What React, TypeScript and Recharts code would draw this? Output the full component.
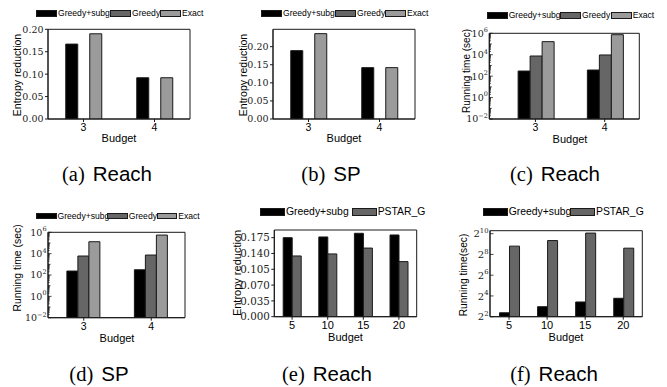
import React from 'react';
import { BarChart, Bar, XAxis, YAxis, CartesianGrid } from 'recharts';

// ---------- data ----------
const smallBudgets = ['3', '4'];
const largeBudgets = ['5', '10', '15', '20'];

// (a) Reach: entropy reduction
const aGreedySubg = [0.167, 0.092];
const aGreedy = [0, 0];
const aExact = [0.19, 0.092];
// (b) SP: entropy reduction
const bGreedySubg = [0.189, 0.142];
const bGreedy = [0, 0];
const bExact = [0.236, 0.142];
// (c) Reach: running time (sec)
const cGreedySubg = [300, 375];
const cGreedy = [7600, 9500];
const cExact = [166000, 740000];
// (d) SP: running time (sec)
const dGreedySubg = [235, 310];
const dGreedy = [6000, 7400];
const dExact = [131000, 550000];
// (e) Reach: entropy reduction vs PSTAR_G
const eGreedySubg = [0.175, 0.1766, 0.1847, 0.181];
const ePstarG = [0.1345, 0.139, 0.152, 0.122];
// (f) Reach: running time vs PSTAR_G
const fGreedySubg = [5.2, 7.8, 10.7, 13.7];
const fPstarG = [446, 648, 1067, 389];

// ticks
const entropyTicksSmall = [0, 0.05, 0.1, 0.15, 0.2];
const entropyTicksLarge = [0, 0.035, 0.07, 0.105, 0.14, 0.175];
const log10LabelValues = [0.01, 1, 100, 10000, 1000000];
const log10LabelExponents = ['\u22122', '0', '2', '4', '6'];
const log2LabelValues = [4, 16, 64, 256, 1024];
const log2LabelExponents = ['2', '4', '6', '8', '10'];

const captionLetters = ['(a)', '(b)', '(c)', '(d)', '(e)', '(f)'];
const captionNames = ['Reach', 'SP', 'Reach', 'SP', 'Reach', 'Reach'];

// ---------- styling ----------
const STROKE = '#1a1a1a';
const SERIF = '"DejaVu Serif", serif';
const SANS = '"Liberation Sans", Arial, sans-serif';
const CAP_SERIF = '"Liberation Serif", "Times New Roman", serif';
const C_BLACK = '#000000';
const C_DARK = '#666666';
const C_LIGHT = '#9b9b9b';

// minor/major tick positions for the base-10 log axis
const log10AllTicks: number[] = [];
for (let k = -2; k <= 6; k++) {
  log10AllTicks.push(Math.pow(10, k));
  if (k < 6) for (let m = 2; m <= 9; m++) log10AllTicks.push(m * Math.pow(10, k));
}

const threeSeries = [
  { key: 'gs', name: 'Greedy+subg', fill: C_BLACK },
  { key: 'g', name: 'Greedy', fill: C_DARK },
  { key: 'ex', name: 'Exact', fill: C_LIGHT },
];
const twoSeries = [
  { key: 'gs', name: 'Greedy+subg', fill: C_BLACK },
  { key: 'ps', name: 'PSTAR_G', fill: C_DARK },
];

const rows3 = (gs: number[], g: number[], ex: number[]) =>
  smallBudgets.map((b, i) => ({ budget: b, gs: gs[i], g: g[i], ex: ex[i] }));
const rows2 = (gs: number[], ps: number[]) =>
  largeBudgets.map((b, i) => ({ budget: b, gs: gs[i], ps: ps[i] }));

const LOG_TICK_MARGIN = 1.5;

function makeLogTick(labelValues: number[], labelExps: string[], base: string, fontSize: number, minor: boolean) {
  return (props: any) => {
    const { x, y, payload } = props;
    const v = payload.value;
    const axisX = x + LOG_TICK_MARGIN; // tickSize is 0
    let idx = -1;
    labelValues.forEach((lv, i) => {
      if (Math.abs(lv - v) / lv < 1e-6) idx = i;
    });
    const isDecade = Math.abs(Math.log10(v) - Math.round(Math.log10(v))) < 1e-6;
    const len = idx >= 0 ? 3.5 : isDecade ? 2.5 : 1.6;
    return (
      <g>
        {(minor || idx >= 0) && (
          <line x1={axisX} x2={axisX + len} y1={y} y2={y} stroke={STROKE} strokeWidth={0.8} />
        )}
        {idx >= 0 && (
          <text x={x} y={y} textAnchor="end" dy="0.36em" fontFamily={SERIF} fontSize={fontSize} fill="#222">
            <tspan>{base}</tspan>
            <tspan dy={-4.5} fontSize={fontSize * 0.68}>{labelExps[idx]}</tspan>
          </text>
        )}
      </g>
    );
  };
}

type LegendItem = { name: string; fill: string; left: number };

function LegendHtml({ items, top, w, h, fontSize }: { items: LegendItem[]; top: number; w: number; h: number; fontSize: number }) {
  return (
    <>
      {items.map((it) => (
        <div
          key={it.name + it.left}
          style={{ position: 'absolute', left: it.left, top, height: h, display: 'flex', alignItems: 'center', whiteSpace: 'nowrap' }}
        >
          <div style={{ width: w, height: h, background: it.fill, border: `1px solid ${STROKE}`, boxSizing: 'border-box' }} />
          <span style={{ fontFamily: SANS, fontSize, lineHeight: `${h}px`, marginLeft: 1, color: '#000' }}>{it.name}</span>
        </div>
      ))}
    </>
  );
}

type PanelProps = {
  left: number;
  top: number;
  width: number;
  height: number;
  plot: [number, number, number, number];
  budgetBaseline: number;
  budgetX: number;
  data: any[];
  series: { key: string; name: string; fill: string }[];
  yDomain: [number, number];
  log?: boolean;
  yTicks: number[];
  yTick?: any;
  decimals?: number;
  yTickFont?: number;
  yLabel: string;
  yLabelPos: [number, number];
  yLabelSize: number;
  xTickFont: number;
  xPadLeft?: number;
};

function Panel(p: PanelProps) {
  const [pl, pt, pr, pb] = p.plot;
  const xAxisH = p.budgetBaseline - pb;
  const margin = {
    top: pt - p.top,
    right: p.left + p.width - pr,
    left: 0,
    bottom: p.top + p.height - pb - xAxisH,
  };
  const yAxisW = pl - p.left;
  const ylx = p.yLabelPos[0] - p.left;
  const yly = p.yLabelPos[1] - p.top;
  const bx = p.budgetX - p.left;
  const by = p.budgetBaseline - p.top;
  const yLabelEl = () => (
    <text
      x={ylx}
      y={yly}
      transform={`rotate(-90 ${ylx} ${yly})`}
      textAnchor="middle"
      dy="0.36em"
      fontFamily={SANS}
      fontSize={p.yLabelSize}
      fill="#000"
    >
      {p.yLabel}
    </text>
  );
  return (
    <div style={{ position: 'absolute', left: p.left, top: p.top, width: p.width, height: p.height }}>
      <BarChart width={p.width} height={p.height} data={p.data} margin={margin} barGap={0} barCategoryGap="25%">
        <CartesianGrid
          stroke={STROKE}
          strokeWidth={1}
          fill="none"
          horizontalCoordinatesGenerator={(g: any) => (g && g.offset ? [g.offset.top, g.offset.top + g.offset.height] : [])}
          verticalCoordinatesGenerator={(g: any) => (g && g.offset ? [g.offset.left, g.offset.left + g.offset.width] : [])}
        />
        <XAxis
          dataKey="budget"
          type="category"
          interval={0}
          height={xAxisH}
          tickSize={3}
          tickMargin={1.5}
          tickLine={{ stroke: STROKE }}
          axisLine={{ stroke: STROKE }}
          tick={{ fontFamily: SANS, fontSize: p.xTickFont, fill: '#000' }}
          padding={{ left: p.xPadLeft || 0, right: 0 }}
          label={() => (
            <text x={bx} y={by} textAnchor="middle" fontFamily={SANS} fontSize={11} fill="#000">
              Budget
            </text>
          )}
        />
        {p.log ? (
          <YAxis
            type="number"
            scale="log"
            domain={p.yDomain}
            allowDataOverflow
            ticks={p.yTicks}
            interval={0}
            width={yAxisW}
            tickSize={0}
            tickMargin={LOG_TICK_MARGIN}
            tickLine={false}
            axisLine={{ stroke: STROKE }}
            tick={p.yTick}
            label={yLabelEl}
          />
        ) : (
          <YAxis
            type="number"
            domain={p.yDomain}
            allowDataOverflow
            ticks={p.yTicks}
            interval={0}
            width={yAxisW}
            tickSize={3}
            tickMargin={1.5}
            tickLine={{ stroke: STROKE }}
            axisLine={{ stroke: STROKE }}
            tick={{ fontFamily: SERIF, fontSize: p.yTickFont || 9.5, fill: '#222' }}
            tickFormatter={(v: number) => v.toFixed(p.decimals || 2)}
            label={yLabelEl}
          />
        )}
        {p.series.map((s) => (
          <Bar key={s.key} dataKey={s.key} name={s.name} fill={s.fill} stroke={STROKE} strokeWidth={1} isAnimationActive={false} />
        ))}
      </BarChart>
    </div>
  );
}

function Caption({ idx, cx, baseline }: { idx: number; cx: number; baseline: number }) {
  return (
    <div
      style={{
        position: 'absolute',
        left: cx - 100,
        width: 200,
        top: baseline - 18.9,
        height: 24,
        lineHeight: '24px',
        textAlign: 'center',
        whiteSpace: 'nowrap',
        color: '#000',
      }}
    >
      <span style={{ fontFamily: CAP_SERIF, fontSize: 20.5 }}>{captionLetters[idx]}</span>
      <span style={{ fontFamily: SANS, fontSize: 20.5, marginLeft: 8 }}>{captionNames[idx]}</span>
    </div>
  );
}

const leg3 = (lefts: number[]) => threeSeries.map((s, i) => ({ name: s.name, fill: s.fill, left: lefts[i] }));
const leg2 = (lefts: number[]) => twoSeries.map((s, i) => ({ name: s.name, fill: s.fill, left: lefts[i] }));

const log10Tick = makeLogTick(log10LabelValues, log10LabelExponents, '10', 9.5, true);
const log2Tick = makeLogTick(log2LabelValues, log2LabelExponents, '2', 10, false);

export default function App() {
  return (
    <div
      style={{
        position: 'absolute',
        left: 0,
        top: 0,
        width: 667,
        height: 387,
        background: '#ffffff',
        overflow: 'hidden',
      }}
    >
      {/* (a) */}
      <LegendHtml items={leg3([36, 110, 160])} top={10} w={21} h={7} fontSize={8.6} />
      <Panel
        left={0}
        top={0}
        width={222}
        height={150}
        plot={[48, 29.3, 190, 119]}
        budgetBaseline={141.5}
        budgetX={119}
        data={rows3(aGreedySubg, aGreedy, aExact)}
        series={threeSeries}
        yDomain={[0, 0.2]}
        yTicks={entropyTicksSmall}
        decimals={2}
        yTickFont={9.5}
        yLabel="Entropy reduction"
        yLabelPos={[17.3, 75]}
        yLabelSize={10.5}
        xTickFont={10.5}
      />
      {/* (b) */}
      <LegendHtml items={leg3([261, 335, 385])} top={10} w={21} h={7} fontSize={8.6} />
      <Panel
        left={225}
        top={0}
        width={222}
        height={150}
        plot={[273, 29.3, 415, 119]}
        budgetBaseline={141.5}
        budgetX={344}
        data={rows3(bGreedySubg, bGreedy, bExact)}
        series={threeSeries}
        yDomain={[0, 0.248]}
        yTicks={entropyTicksSmall}
        decimals={2}
        yTickFont={9.5}
        yLabel="Entropy reduction"
        yLabelPos={[243.3, 75]}
        yLabelSize={10.5}
        xTickFont={10.5}
      />
      {/* (c) */}
      <LegendHtml items={leg3([486.7, 560, 610.7])} top={12} w={21} h={6.5} fontSize={8.6} />
      <Panel
        left={440}
        top={0}
        width={227}
        height={150}
        plot={[489.3, 33.3, 639.3, 119]}
        budgetBaseline={142.5}
        budgetX={570}
        data={rows3(cGreedySubg, cGreedy, cExact)}
        series={threeSeries}
        yDomain={[0.01, 1000000]}
        log
        yTicks={log10AllTicks}
        yTick={log10Tick}
        yLabel="Running time (sec)"
        yLabelPos={[466.7, 71]}
        yLabelSize={10}
        xTickFont={10.5}
        xPadLeft={11.5}
      />
      {/* (d) */}
      <LegendHtml items={leg3([36, 107.3, 156.7])} top={212.7} w={20.5} h={6.7} fontSize={8.6} />
      <Panel
        left={0}
        top={180}
        width={222}
        height={170}
        plot={[48, 232.3, 185, 317.7]}
        budgetBaseline={341.5}
        budgetX={117}
        data={rows3(dGreedySubg, dGreedy, dExact)}
        series={threeSeries}
        yDomain={[0.01, 1000000]}
        log
        yTicks={log10AllTicks}
        yTick={log10Tick}
        yLabel="Running time (sec)"
        yLabelPos={[17.3, 268]}
        yLabelSize={10.4}
        xTickFont={10.5}
        xPadLeft={2}
      />
      {/* (e) */}
      <LegendHtml items={leg2([260, 351.7])} top={208.3} w={25} h={7.7} fontSize={10.4} />
      <Panel
        left={225}
        top={180}
        width={222}
        height={170}
        plot={[274.3, 230, 416.7, 316.7]}
        budgetBaseline={341}
        budgetX={345.5}
        data={rows2(eGreedySubg, ePstarG)}
        series={twoSeries}
        yDomain={[0, 0.192]}
        yTicks={entropyTicksLarge}
        decimals={3}
        yTickFont={10.3}
        yLabel="Entropy reduction"
        yLabelPos={[236.7, 273]}
        yLabelSize={11}
        xTickFont={11}
      />
      {/* (f) */}
      <LegendHtml items={leg2([482.7, 570])} top={208.3} w={25} h={7.7} fontSize={10.4} />
      <Panel
        left={440}
        top={180}
        width={227}
        height={170}
        plot={[490, 230.7, 642.3, 316.7]}
        budgetBaseline={341}
        budgetX={566}
        data={rows2(fGreedySubg, fPstarG)}
        series={twoSeries}
        yDomain={[4, 1250]}
        log
        yTicks={log2LabelValues}
        yTick={log2Tick}
        yLabel="Running time(sec)"
        yLabelPos={[463.3, 275]}
        yLabelSize={10.2}
        xTickFont={11}
      />

      <Caption idx={0} cx={107} baseline={181} />
      <Caption idx={1} cx={331} baseline={181} />
      <Caption idx={2} cx={555} baseline={181} />
      <Caption idx={3} cx={99} baseline={381} />
      <Caption idx={4} cx={327} baseline={381} />
      <Caption idx={5} cx={554} baseline={381} />
    </div>
  );
}
